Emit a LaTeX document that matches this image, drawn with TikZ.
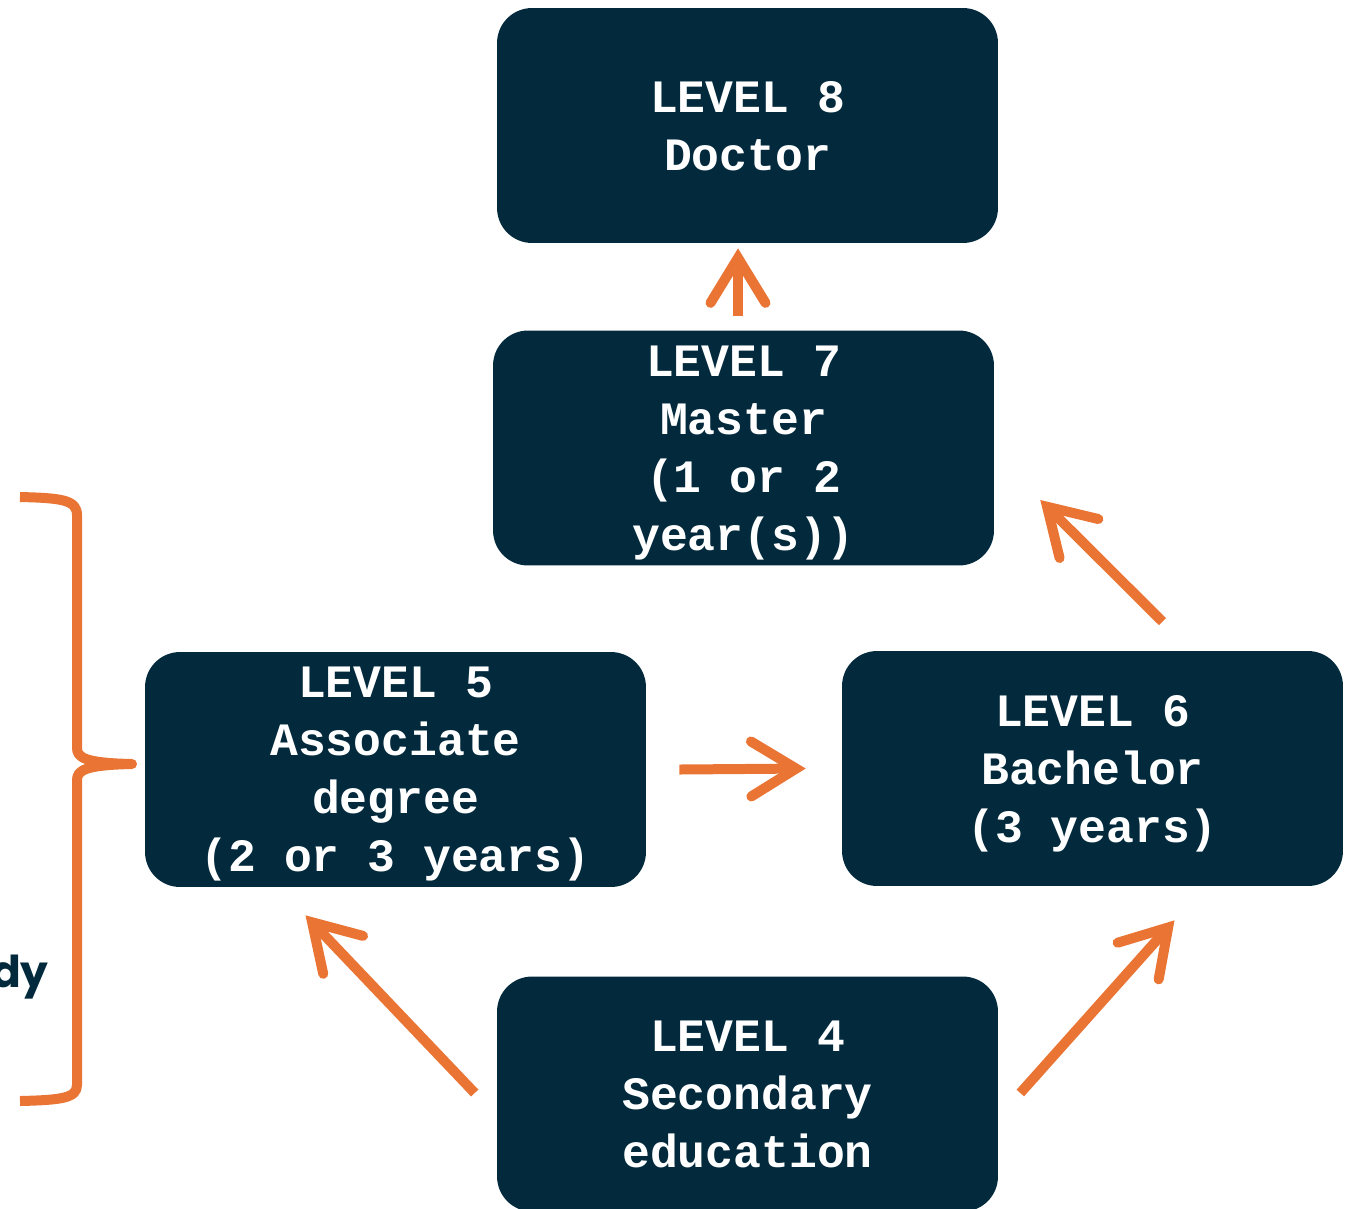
\documentclass[tikz,border=0pt]{standalone}
\usepackage{fontspec}
\setmonofont{Liberation Mono}
\newfontfamily\rotulo{Poppins}
\usetikzlibrary{arrows.meta,calc}
\definecolor{azulEscuro}{RGB}{2,41,60}
\definecolor{laranja}{RGB}{233,116,52}
\tikzset{
    nivel/.style={
        rectangle,
        fill=azulEscuro,
        rounded corners=0.7cm,
        align=center,
        minimum width=10.02cm,
        minimum height=4.7cm,
        inner sep=0pt,
        text depth=0pt,
        text=white,
        font=\ttfamily\bfseries\fontsize{26.4}{33}\selectfont
    },
    seta/.style={draw=laranja, line width=0.2cm,
        -{Straight Barb[length=0.9cm,width=1.1cm,line cap=round]}},
    chave/.style={draw=laranja, line width=0.2cm, line join=round}
}

\begin{document}
\begin{tikzpicture}[x=0.02cm, y=-0.02cm]
        \clip (0,0) rectangle (1352,1208);

        \node[nivel] (l8) at (747.5,125.5) {LEVEL 8\\Doctor};
        \node[nivel] (l7) at (743.5,448) {LEVEL 7\\Master\\(1 or 2\\year(s))};
        \node[nivel] (l5) at (395.5,769.5) {LEVEL 5\\Associate\\degree\\(2 or 3 years)};
        \node[nivel] (l6) at (1092.5,768.5) {LEVEL 6\\Bachelor\\(3 years)};
        \node[nivel] (l4) at (747.5,1094) {LEVEL 4\\Secondary\\education};

        \node[anchor=base east, inner sep=0pt, text=azulEscuro,
            font=\rotulo\bfseries\fontsize{25}{29}\selectfont] (estudo) at (49,987) {dy};

        % chave do lado esquerdo
        \draw[chave] (20,497) .. controls (62,498) and (77,500) .. (77,515)
            -- (77,748) .. controls (77,758) and (86,763) .. (132,764)
            .. controls (86,765) and (77,770) .. (77,780)
            -- (77,1085) .. controls (77,1098) and (62,1100) .. (20,1101);

        \draw[seta] ($(l7.north)+(-5.5,-14)$) -- ($(l8.south)+(-9.5,5)$);
        \draw[seta] ($(l5.east)+(33,0)$) -- ($(l6.west)+(-36,0)$);
        \draw[seta] ($(l6.north)+(70,-29)$) -- ($(l7.east)+(46,52)$);
        \draw[seta] ($(l4.west)+(-22,-1)$) -- ($(l5.south)+(-90,28)$);
        \draw[seta] ($(l4.east)+(22,-1)$) -- ($(l6.south)+(82,34)$);
    \end{tikzpicture}
\end{document}
